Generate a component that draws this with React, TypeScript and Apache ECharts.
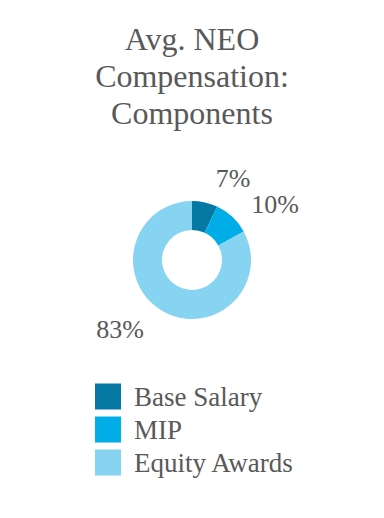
import React, { useEffect, useRef } from "react";
import * as echarts from "echarts";

const categories = ["Base Salary", "MIP", "Equity Awards"];
const values = [7, 10, 83];
const colors = ["#0578a4", "#00ade6", "#86d4f1"];
const labelX = [233, 275, 120];
const labelY = [178, 204, 329];

export default function App() {
  const ref = useRef<HTMLDivElement>(null);
  useEffect(() => {
    const chart = echarts.init(ref.current!, null, { renderer: "svg" });
    const font = "Liberation Serif";
    chart.setOption({
      animation: false,
      backgroundColor: "#ffffff",
      textStyle: { fontFamily: font },
      title: {
        text: "Avg. NEO\nCompensation:\nComponents",
        left: "center",
        top: 20,
        padding: 0,
        textStyle: {
          fontFamily: font,
          fontSize: 32,
          lineHeight: 37,
          fontWeight: "normal",
          color: "#595959",
        },
      },
      legend: {
        orient: "vertical",
        left: 95,
        top: 383,
        padding: 0,
        itemWidth: 26,
        itemHeight: 26,
        itemGap: 6,
        icon: "rect",
        data: categories,
        textStyle: {
          fontFamily: font,
          fontSize: 27,
          lineHeight: 26,
          color: "#595959",
          padding: [0, 0, 0, 8],
        },
      },
      series: [
        {
          type: "pie",
          center: [192, 260],
          radius: [30, 59],
          startAngle: 90,
          clockwise: true,
          avoidLabelOverlap: false,
          label: {
            show: true,
            position: "outside",
            formatter: "{c}%",
            fontFamily: font,
            fontSize: 26,
            color: "#595959",
          },
          labelLine: { show: false },
          labelLayout: (p: any) => ({
            x: labelX[p.dataIndex],
            y: labelY[p.dataIndex],
            align: "center",
            verticalAlign: "middle",
          }),
          emphasis: { disabled: true },
          data: categories.map((name, i) => ({
            name,
            value: values[i],
            itemStyle: { color: colors[i] },
          })),
        },
      ],
    });
    return () => chart.dispose();
  }, []);
  return (
    <div
      ref={ref}
      style={{ position: "fixed", left: 0, top: 0, width: 384, height: 518 }}
    />
  );
}
